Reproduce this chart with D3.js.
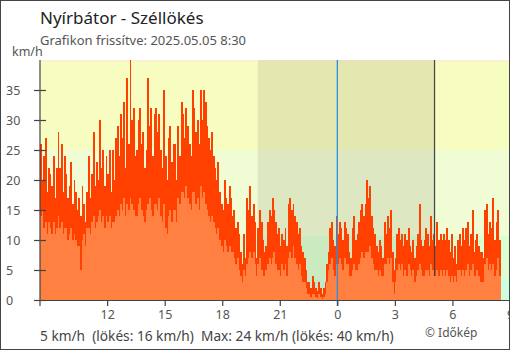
<!DOCTYPE html>
<html><head><meta charset="utf-8">
<script src="https://cdnjs.cloudflare.com/ajax/libs/d3/7.8.5/d3.min.js"></script>
<style>
html,body{margin:0;padding:0;background:#fff;}
svg{display:block;font-family:"Noto Sans",sans-serif;}
</style></head><body>
<script>
// ---- data (5-minute values, from 2025-05-04 08:30) ----
const startTime = "2025-05-04T08:30:00";
const stepMinutes = 5;
const gust = [
 26,20,24,27,18,22,21,19,24,17,22,28,
 22,26,18,24,21,17,19,23,16,20,18,15,
 17,14,19,16,13,18,24,17,21,28,19,23,
 20,30,22,25,19,24,21,25,18,25,20,27,
 29,24,31,27,33,22,37,26,40,30,32,24,
 25,30,32,26,28,22,25,37,29,32,24,31,
 32,28,31,25,22,35,24,20,27,29,23,26,
 26,20,29,24,33,31,27,32,29,26,24,35,
 32,28,30,26,35,30,35,33,29,27,25,28,
 24,22,20,23,18,16,15,20,17,16,19,17,
 14,15,12,13,11,8,6,11,7,17,15,19,
 14,16,13,7,12,15,13,10,8,9,13,15,
 14,17,15,13,11,12,9,11,10,12,9,16,
 17,15,16,14,13,11,12,9,8,7,5,3,
 3,2,4,3,2,1.5,3,2,1,2,3,6,
 8,12,13,10,9,14,11,13,12,10,13,12,
 11,8,7,12,14,10,11,13,15,16,14,16,
 20,17,19,14,12,11,9,8,10,9,7,13,
 11,14,12,15,8,5,7,11,12,10,11,9,
 11,10,12,9,8,10,7,9,11,16,10,9,
 10,12,11,9,14,10,11,9,13,10,11,10,
 11,10,12,10,8,11,7,9,6,10,11,9,
 12,10,12,13,9,11,15,8,10,11,9,8,
 8,7,15,16,11,13,12,17,10,13,15,10
];
const mean = [
 14,15,12,13,11,13,12,11,13,11,12,14,
 12,13,11,12,12,10,11,12,10,11,10,9,
 9,5,10,11,9,12,12,11,13,14,12,13,
 14,15,13,14,12,14,13,14,12,13,13,14,
 15,14,16,15,17,14,16,15,17,16,15,14,
 14,16,17,15,14,13,15,16,17,15,14,16,
 16,15,17,14,13,16,12,11,14,15,13,15,
 15,13,17,16,18,18,17,19,17,16,15,18,
 18,16,17,15,19,17,18,16,15,14,13,14,
 13,12,11,12,10,9,8,10,9,8,9,8,
 8,7,6,7,5,4,3,5,4,6,7,8,
 7,8,6,4,6,7,5,4,4,5,6,7,
 6,7,8,6,5,5,4,6,5,6,4,7,
 8,7,9,7,6,5,6,4,3,3,2,1,
 1,0.5,1,1,0.5,0.3,1,0.5,0.2,0.5,1,3,
 5,6,7,5,4,6,6,7,6,5,7,6,
 6,4,4,5,6,5,5,6,7,8,7,8,
 8,8,9,7,6,5,5,4,5,4,4,6,
 6,7,6,7,3,1,3,5,6,5,6,4,
 5,4,6,5,4,5,3,4,5,6,5,4,
 4,5,5,4,6,5,4,4,5,4,5,4,
 5,4,5,4,3,4,3,4,3,5,5,4,
 5,4,5,6,4,5,6,4,4,5,4,3,
 3,3,6,7,5,6,5,6,4,5,7,4
];
const yTicks = [0,5,10,15,20,25,30,35];
const xTickTimes = ["2025-05-04T12:00","2025-05-04T15:00","2025-05-04T18:00","2025-05-04T21:00","2025-05-05T00:00","2025-05-05T03:00","2025-05-05T06:00","2025-05-05T09:00"];
const bandLimits = [0,3.5,10.7,25,39.6,40];
const bandColors = ["#ccffdd","#dcffd2","#f0fcd4","#f7fcc0","#fdf2d0"];
const nightStart = "2025-05-04T19:51", nightEnd = "2025-05-05T05:04";
const markerTime = "2025-05-05T05:04";
const midnight = "2025-05-05T00:00";
const titleText = "Nyírbátor - Széllökés";
const subtitleText = "Grafikon frissítve: 2025.05.05 8:30";
const footerText = "5 km/h  (lökés: 16 km/h)  Max: 24 km/h (lökés: 40 km/h)";
const creditText = "© Időkép";

const W=510,H=350;
const svg=d3.select("body").append("svg").attr("width",W).attr("height",H);
const x=d3.scaleTime().domain([new Date("2025-05-04T08:30:00"),new Date("2025-05-05T09:00:00")]).range([40,510]);
const y=d3.scaleLinear().domain([0,40]).range([300,60]);
const t0=new Date(startTime).getTime();
const tAt=i=>new Date(t0+i*stepMinutes*60000);

// bands
const plot=svg.append("g");
plot.selectAll("rect.band").data(bandColors).join("rect")
  .attr("x",40).attr("width",470)
  .attr("y",(c,i)=>y(bandLimits[i+1])).attr("height",(c,i)=>y(bandLimits[i])-y(bandLimits[i+1]))
  .attr("fill",c=>c).attr("shape-rendering","crispEdges");

// night shading (behind data)
plot.append("rect").attr("x",x(new Date(nightStart))).attr("width",x(new Date(nightEnd))-x(new Date(nightStart)))
  .attr("y",y(40)).attr("height",y(0)-y(40)).attr("fill","rgba(60,50,40,0.1)");

// gust bars
plot.selectAll("rect.g").data(gust).join("rect")
  .attr("x",(d,i)=>x(tAt(i))).attr("width",(d,i)=>x(tAt(i+1))-x(tAt(i))+0.3)
  .attr("y",d=>y(d)).attr("height",d=>y(0)-y(d)).attr("fill","#ff4000").attr("shape-rendering","crispEdges");
plot.selectAll("rect.m").data(mean).join("rect")
  .attr("x",(d,i)=>x(tAt(i))).attr("width",(d,i)=>x(tAt(i+1))-x(tAt(i))+0.3)
  .attr("y",d=>y(d)).attr("height",d=>y(0)-y(d)).attr("fill","#ff8040").attr("shape-rendering","crispEdges");

// lines
svg.append("line").attr("x1",x(new Date(markerTime))).attr("x2",x(new Date(markerTime))).attr("y1",60).attr("y2",276)
  .attr("stroke","#444").attr("stroke-width",1.2);
svg.append("line").attr("x1",x(new Date(midnight))).attr("x2",x(new Date(midnight))).attr("y1",60).attr("y2",306)
  .attr("stroke","#2a90e0").attr("stroke-width",1.3);

// axes
const gy=svg.append("g").attr("transform","translate(40,0)")
  .call(d3.axisLeft(y).tickValues(yTicks).tickSize(6).tickFormat(d3.format("d")));
gy.select(".domain").remove();
gy.selectAll(".tick line").attr("x1",-6).attr("x2",6).attr("stroke","#444").attr("stroke-width",1.2);
gy.selectAll(".tick text").attr("x",-34).attr("text-anchor","start").attr("fill","#555").style("font-size","12.5px").style("font-family","Noto Sans");
svg.append("line").attr("x1",40).attr("x2",40).attr("y1",60).attr("y2",306).attr("stroke","#444").attr("stroke-width",1.2);

const gx=svg.append("g").attr("transform","translate(0,300)")
  .call(d3.axisBottom(x).tickValues(xTickTimes.map(s=>new Date(s))).tickSize(6).tickFormat(d3.timeFormat("%-H")));
gx.select(".domain").attr("d","M34,0.5H510").attr("stroke","#444").attr("stroke-width",1.2);
gx.selectAll(".tick line").attr("stroke","#444").attr("stroke-width",1.2);
gx.selectAll(".tick text").attr("y",10.5).attr("fill","#555").style("font-size","12.5px").style("font-family","Noto Sans");

// texts
svg.append("text").attr("x",40).attr("y",24).text(titleText).attr("fill","#222").style("font-size","17px");
svg.append("text").attr("x",40).attr("y",45).text(subtitleText).attr("fill","#555").style("font-size","13px");
svg.append("text").attr("x",12).attr("y",56).text("km/h").attr("fill","#555").style("font-size","12.5px");
svg.append("text").attr("x",40).attr("y",341).text(footerText).attr("fill","#444").style("font-size","13.7px").style("white-space","pre").attr("xml:space","preserve");
svg.append("text").attr("x",425).attr("y",337).text(creditText).attr("fill","#555").style("font-size","12px");

// frame
svg.append("rect").attr("x",0.5).attr("y",0.5).attr("width",509).attr("height",349).attr("fill","none").attr("stroke","#444");
</script>
</body></html>
